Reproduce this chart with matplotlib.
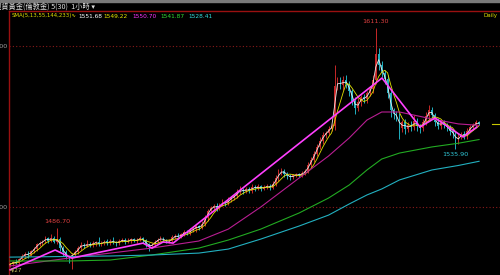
import numpy as np
import pandas as pd
import matplotlib.pyplot as plt
from matplotlib.patches import Rectangle

plt.rcParams['font.family'] = ['DejaVu Sans']

# hourly gold bars (grouped)
closes = [
    1464.5, 1466.0, 1465.2, 1467.8, 1469.5, 1471.0, 1470.2, 1472.5, 1474.0, 1476.8,
    1477.5, 1478.9, 1480.5, 1479.2, 1481.0, 1478.5, 1480.2, 1474.5, 1472.0, 1469.5,
    1468.8, 1470.5, 1472.0, 1474.6, 1476.5, 1475.8, 1477.0, 1476.2, 1477.5, 1478.1,
    1476.9, 1477.8, 1478.6, 1477.4, 1479.0, 1478.2, 1477.5, 1478.8, 1479.6, 1478.4,
    1479.2, 1480.0, 1478.9, 1479.7, 1480.5, 1479.3, 1477.0, 1475.6, 1476.5, 1478.5,
    1479.8, 1480.5, 1479.4, 1478.6, 1479.0, 1481.2, 1482.3, 1481.5, 1483.0, 1484.6,
    1483.8, 1485.5, 1486.2, 1488.0, 1487.2, 1489.5, 1493.0, 1497.5, 1499.2, 1500.8,
    1499.5, 1501.5, 1503.0, 1502.2, 1504.5, 1505.8, 1507.0, 1509.2, 1510.5, 1509.8,
    1511.2, 1510.0, 1512.5, 1511.6, 1512.8, 1511.5, 1512.2, 1513.0, 1512.0, 1514.5,
    1517.8, 1521.0, 1522.5, 1520.8, 1519.2, 1518.5, 1519.6, 1520.2, 1519.8, 1521.0,
    1522.4, 1526.0, 1529.5, 1533.0, 1537.5, 1541.0, 1544.5, 1546.0, 1548.5, 1550.0,
    1575.0, 1578.0, 1575.5, 1579.0, 1576.2, 1572.0, 1566.0, 1561.5, 1565.0, 1568.0,
    1566.8, 1570.5, 1573.0, 1579.0, 1595.0, 1588.0, 1583.0, 1579.5, 1571.0, 1560.0,
    1557.5, 1556.0, 1549.0, 1552.5, 1548.5, 1551.0, 1549.8, 1553.5, 1550.0, 1549.2,
    1552.8, 1556.5, 1560.5, 1557.0, 1553.0, 1550.5, 1552.5, 1551.0, 1549.5, 1547.0,
    1546.0, 1541.0, 1543.5, 1545.5, 1544.0, 1547.5, 1549.5, 1551.0, 1552.5, 1551.7,
]
first_open = 1463.5

wick_hi = [
    1.0, 0.8, 1.5, 0.6, 1.2, 0.9, 1.4, 0.7, 1.1, 0.8,
    1.3, 0.9, 1.6, 1.0, 2.0, 1.2, 6.5, 1.5, 1.0, 1.2,
    0.8, 1.0, 1.3, 0.9, 1.5, 1.1, 2.5, 1.0, 1.4, 0.8,
    3.0, 1.2, 0.9, 1.5, 1.0, 2.2, 0.8, 1.3, 1.1, 0.9,
    1.4, 1.0, 0.8, 1.2, 1.6, 0.9, 1.0, 0.7, 1.3, 1.1,
    0.9, 1.5, 1.0, 0.8, 1.2, 1.3, 1.0, 1.4, 0.9, 1.2,
    1.0, 1.3, 1.5, 1.1, 0.9, 1.6, 1.8, 1.2, 1.4, 1.0,
    1.5, 1.2, 2.0, 1.0, 1.6, 1.3, 1.1, 1.8, 2.4, 1.2,
    1.5, 1.0, 1.9, 1.2, 1.4, 1.0, 1.3, 1.6, 1.1, 1.5,
    2.0, 2.5, 1.8, 1.2, 1.0, 1.4, 1.2, 0.9, 1.1, 1.3,
    1.5, 1.8, 1.6, 2.0, 1.5, 2.2, 1.8, 1.5, 2.0, 1.6,
    13.0, 2.5, 3.0, 2.2, 2.8, 2.0, 1.5, 2.0, 2.5, 1.8,
    2.0, 1.8, 2.2, 3.0, 16.3, 3.5, 2.5, 2.0, 2.5, 2.0,
    1.5, 2.0, 2.5, 1.5, 2.0, 1.8, 2.2, 3.5, 2.0, 1.5,
    2.0, 2.5, 3.0, 1.8, 1.5, 2.0, 1.5, 1.8, 1.2, 1.5,
    1.2, 1.5, 1.8, 1.2, 1.5, 1.8, 1.5, 1.4, 1.8, 1.0,
]
wick_lo = [
    1.0, 1.2, 0.8, 1.5, 0.9, 1.1, 1.6, 0.8, 1.0, 1.3,
    0.9, 1.2, 1.0, 1.5, 0.8, 1.1, 1.4, 1.8, 2.5, 1.5,
    3.5, 7.0, 1.5, 1.2, 1.0, 1.4, 0.9, 1.2, 1.0, 1.6,
    1.0, 0.8, 1.3, 1.0, 1.2, 0.9, 1.5, 1.1, 0.8, 1.2,
    1.0, 1.3, 0.9, 1.1, 1.0, 1.4, 2.0, 3.0, 1.2, 1.0,
    1.1, 0.9, 1.4, 1.0, 1.2, 0.8, 1.1, 1.5, 0.9, 1.2,
    1.3, 1.0, 1.2, 1.5, 1.6, 1.0, 1.4, 1.8, 1.2, 1.5,
    1.8, 1.2, 1.0, 1.5, 1.1, 1.3, 1.2, 1.4, 1.0, 1.8,
    1.2, 1.6, 1.0, 1.4, 1.2, 1.5, 1.1, 1.3, 1.6, 1.0,
    1.2, 1.5, 1.4, 2.0, 1.8, 1.5, 1.2, 1.0, 1.4, 1.1,
    1.2, 1.5, 1.8, 1.4, 1.6, 1.5, 2.0, 1.8, 1.5, 1.2,
    2.0, 2.5, 2.2, 3.0, 2.5, 3.0, 2.5, 3.5, 2.0, 2.5,
    2.0, 2.5, 1.8, 2.0, 2.5, 3.0, 2.5, 3.0, 3.5, 4.0,
    3.0, 2.5, 7.0, 2.5, 3.0, 2.0, 2.5, 2.0, 2.5, 3.0,
    2.0, 1.8, 2.5, 2.0, 2.5, 2.0, 1.8, 2.2, 2.0, 2.5,
    3.0, 5.1, 2.0, 1.5, 2.0, 1.5, 1.2, 1.5, 1.2, 1.0,
]

# long moving averages (bar index, price)
ma_idx = [0, 20, 34, 48, 64, 74, 85, 98, 108, 115, 121, 126, 132, 143, 152, 159]
sma55 = [1463.4, 1468.3, 1471.4, 1474.5, 1478.9, 1486.3, 1500.0, 1518.0,
         1531.7, 1542.9, 1554.0, 1559.0, 1559.0, 1554.7, 1551.6, 1550.7]
sma144 = [1466.5, 1466.5, 1467.1, 1470.2, 1474.5, 1479.5, 1486.3, 1496.3,
          1505.6, 1513.7, 1523.0, 1529.8, 1533.5, 1537.3, 1539.6, 1541.9]
sma233 = [1468.9, 1469.3, 1469.6, 1470.2, 1471.4, 1473.9, 1480.1, 1488.2,
          1495.0, 1501.9, 1507.5, 1511.2, 1516.8, 1523.0, 1525.8, 1528.4]

# hand drawn zigzag trend line
trend_idx = [0, 15.3, 21, 45.1, 48.1, 51.9, 55.3, 126.1, 139, 144.1, 153.6, 158.3]
trend_px = [1461.0, 1473.3, 1468.3, 1477.6, 1474.5, 1478.3, 1477.6, 1580.1,
            1549.7, 1555.3, 1543.5, 1549.7]

# bars carrying the high / low labels
label_hi = [124, 16]
label_lo = [151]

legend_vals = ['1551.68', '1549.22', '1550.70', '1541.87', '1528.41']
legend_cols = ['#ffffff', '#e8e800', '#ff33ff', '#33dd33', '#33dddd']

c = np.array(closes)
o = np.concatenate([[first_open], c[:-1]])
hi = np.maximum(o, c) + np.array(wick_hi)
lo = np.minimum(o, c) - np.array(wick_lo)
x = np.arange(len(c))
up = c >= o
cols = np.where(up, '#c82828', '#20b0c0')

fig = plt.figure(figsize=(5, 2.75), dpi=100, facecolor='black')
ax = fig.add_axes([9 / 500, 0, 491 / 500, 264 / 275])
ax.set_facecolor('black')

ax.axhline(1600, color='#8a1a1a', lw=0.8, ls=(0, (1, 2)), zorder=1)
ax.axhline(1500, color='#8a1a1a', lw=0.8, ls=(0, (1, 2)), zorder=1)

ax.vlines(x, lo, hi, colors=cols, lw=0.7, zorder=2)
body = np.maximum(np.abs(c - o), 0.35)
ax.bar(x, body, bottom=np.minimum(o, c), width=0.6, color=cols, lw=0, zorder=3)

s = pd.Series(c)
ax.plot(x, s.rolling(2, min_periods=1).mean(), color='#e8e8e8', lw=0.6, zorder=4)
ax.plot(x, s.rolling(5, min_periods=1).mean(), color='#e0e000', lw=0.6, zorder=4)
ax.plot(ma_idx, sma55, color='#b81e92', lw=0.8, zorder=4)
ax.plot(ma_idx, sma144, color='#22aa22', lw=0.8, zorder=4)
ax.plot(ma_idx, sma233, color='#22b0c0', lw=0.8, zorder=4)

ax.plot(trend_idx, trend_px, color='#ff40ff', lw=1.2, zorder=5, solid_capstyle='round')

for i in label_hi:
    ax.annotate(f'{hi[i]:.2f}', (i, hi[i]), xytext=(0, 3), textcoords='offset points',
                ha='center', va='bottom', color='#e04040', fontsize=4.6)
for i in label_lo:
    ax.annotate(f'{lo[i]:.2f}', (i, lo[i]), xytext=(0, -2), textcoords='offset points',
                ha='center', va='top', color='#30c8d8', fontsize=4.6)

# current price tick on the right edge
ax.plot([163.5, 166.5], [c[-1], c[-1]], color='#c8c800', lw=0.8, zorder=5)

ax.set_xlim(-0.34, 166.1)
ax.set_ylim(1457.8, 1621.7)
ax.set_xticks([])
ax.set_yticks([1500, 1600])
ax.set_yticklabels(['1500.00', '1600.00'], color='#a0a0a0', fontsize=4.6)
ax.tick_params(axis='y', length=0, pad=1)
for side in ['right', 'bottom']:
    ax.spines[side].set_visible(False)
ax.spines['left'].set_color('#9a1010')
ax.spines['top'].set_color('#9a1010')
ax.spines['left'].set_linewidth(1)
ax.spines['top'].set_linewidth(1)

# header
fig.patches.append(Rectangle((0, 1 - 2 / 275), 1, 2 / 275, transform=fig.transFigure,
                             color='#7a7a7a', zorder=0))
fig.text(-0.012, 1 - 6.5 / 275, '現貨黃金(倫敦金) 5(30)  1小時 ▾', color='#e0e0e0',
         fontsize=5.2, va='center', ha='left', family=['Noto Sans CJK TC', 'DejaVu Sans'])
fig.text(12 / 500, 1 - 16 / 275, 'SMA(5,13,55,144,233)∿', color='#e0e000',
         fontsize=3.9, va='center', ha='left')
leg_x = [78, 103, 132, 160, 188]
for lx, v, col in zip(leg_x, legend_vals, legend_cols):
    fig.text(lx / 500, 1 - 16 / 275, v, color=col, fontsize=4.2, va='center', ha='left')
fig.text(484 / 500, 1 - 16 / 275, 'Daily', color='#e0e000', fontsize=4.0,
         va='center', ha='left')
fig.text(10 / 500, 2 / 275, '4/27', color='#c8c860', fontsize=4.0, va='bottom', ha='left')

fig.savefig('out.png', dpi=100, facecolor='black')
